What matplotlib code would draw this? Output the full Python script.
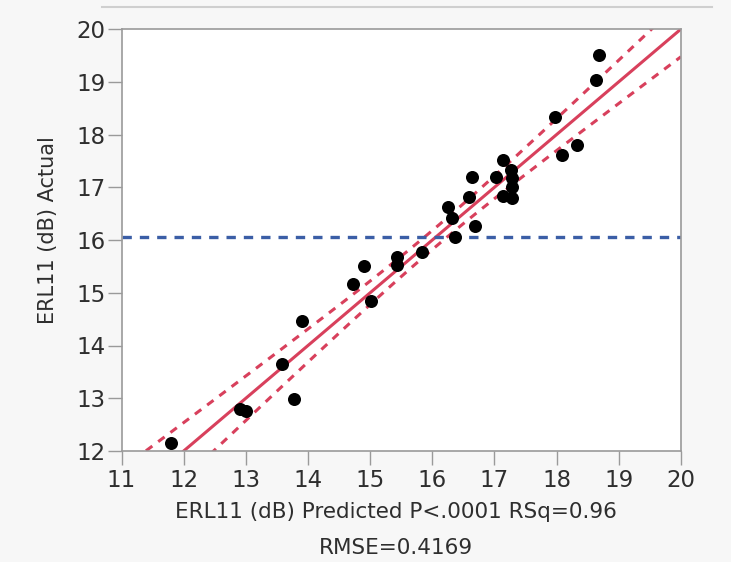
import numpy as np
import matplotlib.pyplot as plt
from matplotlib.lines import Line2D

# predicted vs actual ERL11 (dB)
predicted = [11.79, 12.90, 13.00, 13.58, 13.77, 13.91, 14.72, 14.90, 15.01, 15.43,
             15.43, 15.84, 16.36, 16.68, 16.26, 16.32, 16.59, 16.64, 17.03, 17.13,
             17.13, 17.27, 17.28, 17.28, 17.28, 17.97, 18.09, 18.32, 18.64, 18.68]
actual = [12.15, 12.79, 12.75, 13.64, 12.98, 14.46, 15.16, 15.51, 14.85, 15.52,
          15.67, 15.78, 16.05, 16.27, 16.62, 16.41, 16.81, 17.19, 17.19, 17.51,
          16.84, 17.32, 17.17, 17.00, 16.79, 18.33, 17.62, 17.81, 19.03, 19.50]

mean_actual = 16.05
# confidence curve half-width: narrowest at centre, widening toward ends
band_center = 16.05
band_min = 0.18
band_slope = 0.125

xticks = [11, 12, 13, 14, 15, 16, 17, 18, 19, 20]
yticks = [12, 13, 14, 15, 16, 17, 18, 19, 20]

red = '#d8405c'
blue = '#3b5ea6'
grey = '#9a9a9a'
txt = '#2e2e2e'

W, H = 731, 562
fig = plt.figure(figsize=(W / 100, H / 100), dpi=100)
fig.patch.set_facecolor('#f7f7f7')
ax = fig.add_axes([121.5 / W, 1 - 451 / H, (681 - 121.5) / W, (451 - 29) / H])
ax.set_facecolor('white')

xs = np.linspace(11, 20, 200)
hw = np.sqrt(band_min ** 2 + (band_slope * (xs - band_center)) ** 2)
ax.plot(xs, xs, color=red, lw=2.2, zorder=2)
ax.plot(xs, xs + hw, color=red, lw=2.2, ls=(0, (2.6, 2.4)), zorder=2)
ax.plot(xs, xs - hw, color=red, lw=2.2, ls=(0, (2.6, 2.4)), zorder=2)
ax.axhline(mean_actual, color=blue, lw=2.4, ls=(0, (2.8, 2.4)), zorder=2)

ax.scatter(predicted, actual, s=88, color='black', linewidths=0, zorder=3)

ax.set_xlim(11, 20)
ax.set_ylim(12, 20)
ax.set_xticks(xticks)
ax.set_yticks(yticks)
ax.tick_params(length=10, width=1, color=grey, labelsize=16.5, labelcolor=txt)
ax.tick_params(axis='x', pad=3)
ax.tick_params(axis='y', pad=1.5)
for s in ax.spines.values():
    s.set_color(grey)
    s.set_linewidth(1.2)

fig.text(396 / W, 1 - 518 / H, 'ERL11 (dB) Predicted P<.0001 RSq=0.96',
         fontsize=15.5, color=txt, ha='center', va='baseline')
fig.text(396 / W, 1 - 554 / H, 'RMSE=0.4169',
         fontsize=15.5, color=txt, ha='center', va='baseline')
fig.text(48 / W, 1 - 230 / H, 'ERL11 (dB) Actual', rotation=90,
         fontsize=15, color=txt, ha='center', va='center')

fig.add_artist(Line2D([102 / W, 712 / W], [1 - 7 / H, 1 - 7 / H],
                      color='#cfcfcf', lw=1.5))

fig.savefig('out.png', dpi=100, facecolor=fig.get_facecolor())
